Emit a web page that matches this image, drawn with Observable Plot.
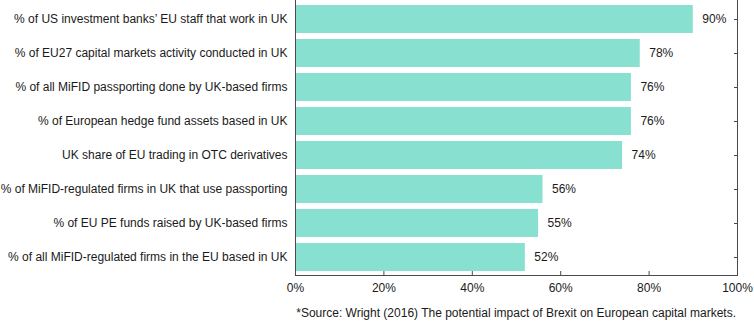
<!DOCTYPE html>
<html>
<head>
<meta charset="utf-8">
<script src="https://cdn.jsdelivr.net/npm/d3@7"></script>
<script src="https://cdn.jsdelivr.net/npm/@observablehq/plot@0.6"></script>
<style>
  html, body { margin: 0; padding: 0; background: #fff; }
  body { width: 754px; height: 322px; overflow: hidden; font-family: "Liberation Sans", Arial, Helvetica, sans-serif; }
  #caption { font-size: 12px; line-height: 14px; color: #1a1a1a; text-align: right; padding-right: 18px; margin-top: 8px; }
</style>
</head>
<body>
<div id="chart"></div>
<div id="caption">*Source: Wright (2016) The potential impact of Brexit on European capital markets.</div>
<script>
const categories = [
  "% of US investment banks\u2019 EU staff that work in UK",
  "% of EU27 capital markets activity conducted in UK",
  "% of all MiFID passporting done by UK-based firms",
  "% of European hedge fund assets based in UK",
  "UK share of EU trading in OTC derivatives",
  "% of MiFID-regulated firms in UK that use passporting",
  "% of EU PE funds raised by UK-based firms",
  "% of all MiFID-regulated firms in the EU based in UK"
];
const values = [90, 78, 76, 76, 74, 56, 55, 52];
const xTicks = [0, 20, 40, 60, 80, 100];

const data = categories.map((c, i) => ({category: c, value: values[i]}));
const axisColor = "#4a4a4a";
const textColor = "#1a1a1a";

const chart = Plot.plot({
  width: 754,
  height: 298,
  marginLeft: 295,
  marginRight: 17,
  marginTop: 0,
  marginBottom: 23,
  style: {fontFamily: "'Liberation Sans', Arial, Helvetica, sans-serif", fontSize: "12px", color: textColor, background: "#fff"},
  x: {domain: [0, 100]},
  y: {domain: categories, range: [1, 275], paddingInner: 0.17, paddingOuter: 0, align: 0.5},
  marks: [
    Plot.axisX({anchor: "bottom", ticks: xTicks, tickSize: 0, tickPadding: 8, tickFormat: d => d + "%", fill: textColor, label: null}),
    Plot.axisX({anchor: "bottom", ticks: xTicks, tickSize: -4, tickFormat: () => "", stroke: axisColor, label: null}),
    Plot.axisY({anchor: "left", tickSize: 0, tickPadding: 8, fill: textColor, label: null}),
    Plot.axisY({anchor: "right", tickSize: -4, tickFormat: () => "", stroke: axisColor, label: null}),
    Plot.barX(data, {x: "value", y: "category", fill: "#88e0d1"}),
    Plot.text(data, {x: "value", y: "category", text: d => d.value + "%", dx: 9, textAnchor: "start", fill: textColor, fontSize: 12}),
    Plot.ruleX([0, 100], {stroke: axisColor}),
    Plot.frame({anchor: "bottom", stroke: axisColor})
  ]
});
document.getElementById("chart").appendChild(chart);
</script>
</body>
</html>
